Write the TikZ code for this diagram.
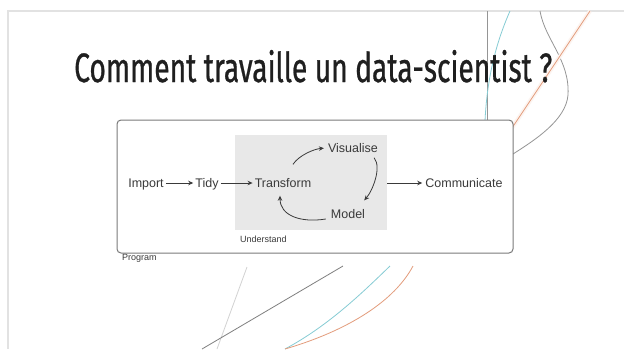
\documentclass[tikz,border=0pt]{standalone}
\usepackage{fontspec}
\usepackage{graphicx}
\setmainfont{Liberation Sans}
\newfontfamily\titlefont[FakeBold=0.9]{Fira Sans}
\usetikzlibrary{arrows.meta,calc}
\definecolor{txt}{HTML}{3A3A3A}
\definecolor{frame}{HTML}{E2E2E2}
\definecolor{boxline}{HTML}{7A7A7A}
\definecolor{undfill}{HTML}{E8E8E8}
\definecolor{tealc}{HTML}{86CCD4}
\definecolor{orangec}{HTML}{E39C7C}
\definecolor{greyc}{HTML}{959595}
\definecolor{lgreyc}{HTML}{D2D2D2}
\tikzset{
  lbl/.style={font=\fontsize{12.5}{14}\selectfont, text=txt, inner sep=2pt, text height=9pt, text depth=0pt},
  small/.style={font=\fontsize{9}{10}\selectfont, text=txt, inner sep=0pt, anchor=west},
  arr/.style={draw=txt, line width=0.8pt, -{Stealth[length=5pt,width=4.5pt]}},
  deco/.style={line width=0.8pt},
}
\begin{document}
\begin{tikzpicture}[x=1pt,y=-1pt]
\useasboundingbox[fill=white] (0,0) rectangle (624,349);
% slide frame
\draw[frame, line width=1.5pt] (8,349) -- (8,11) -- (624,11);
% decorative curves, top right
\draw[deco, greyc, line width=0.6pt] (487,11) -- (487,121);
\draw[deco, tealc] (510,11) .. controls (495,45) and (487,80) .. (485,121);
\draw[deco, greyc] (540,11) .. controls (545,40) and (570,60) .. (568,95)
   .. controls (566,120) and (535,140) .. (513,154);
\draw[orangec!12, line width=4pt] (590,11) -- (512,128);
\draw[deco, orangec] (590,11) -- (512,128);
% decorative curves, bottom
\draw[deco, lgreyc] (247,267) -- (217,349);
\draw[deco, greyc!85!black] (343,266) -- (202,349);
\draw[deco, tealc] (390,266) .. controls (365,290) and (330,325) .. (285,349);
\draw[deco, orangec] (413,266) .. controls (395,300) and (350,330) .. (285,349);
% title
\node[anchor=base west, inner sep=0pt, text=black!88] (title) at (74,82)
  {\resizebox{478pt}{32pt}{\titlefont Comment travaille un data-scientist ?}};
% main box
\node[draw=boxline, line width=1pt, rounded corners=4pt, fill=white,
      minimum width=396pt, minimum height=133pt, inner sep=0pt] (program) at (315,186.5) {};
\node[fill=undfill, minimum width=152pt, minimum height=95pt, inner sep=0pt] (understand) at (311,182.5) {};
\node[small] (undlbl) at (240,239.5) {Understand};
\node[small] (proglbl) at (122,258.5) {Program};
% nodes
\node[lbl] (import) at (146,183) {Import};
\node[lbl] (tidy) at (207,183) {Tidy};
\node[lbl] (transform) at (283,183) {Transform};
\node[lbl] (visualise) at (353,148) {Visualise};
\node[lbl] (model) at (348,214) {Model};
\node[lbl] (communicate) at (464,183) {Communicate};
% connectors
\draw[arr] (import) -- (tidy);
\draw[arr] (tidy) -- (transform);
\draw[arr, shorten >=1pt] (understand.east |- transform.center) -- (communicate.west);
\draw[arr, shorten >=2pt] ([shift={(10,-12)}]transform.north) .. controls +(6,-9) and +(-12,1) .. (visualise.west);
\draw[arr] ([shift={(-6,3)}]visualise.south east) .. controls +(8,10) and +(8,-9) .. ([shift={(-3,-7)}]model.north east);
\draw[arr] ([shift={(-3,5)}]model.west) .. controls +(-25,4) and +(0,20) .. ([shift={(-3,6)}]transform.south);
\end{tikzpicture}
\end{document}
